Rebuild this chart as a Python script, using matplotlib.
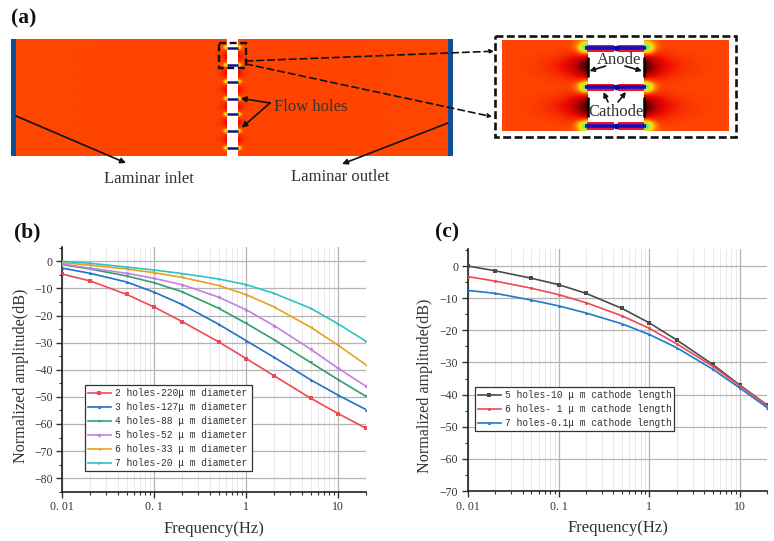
"""Flow-hole schematic (a) and normalized amplitude vs frequency sweeps (b, c)."""
import numpy as np
import matplotlib
matplotlib.use("Agg")
import matplotlib.pyplot as plt
from matplotlib.colors import LinearSegmentedColormap
from matplotlib.patches import Rectangle
from matplotlib.ticker import FixedLocator, FixedFormatter, MultipleLocator, NullFormatter

plt.rcParams.update({
    "font.family": "Liberation Serif", "font.size": 10,
    "axes.spines.top": False, "axes.spines.right": False,
    "axes.axisbelow": True,
})

W, H = 774, 541
FREQ = [0.01, 0.02, 0.05, 0.1, 0.2, 0.5, 1, 2, 5, 10, 20]

B_LABELS = ["2 holes-220μ m diameter", "3 holes-127μ m diameter", "4 holes-88 μ m diameter",
            "5 holes-52 μ m diameter", "6 holes-33 μ m diameter", "7 holes-20 μ m diameter"]
B_COLORS = ["#f04850", "#1f70c8", "#2f9e70", "#c480e0", "#e8a020", "#2cc4c0"]
B_MARKERS = ["s", "^", "v", "D", "<", ">"]
B_2 = [-4.7, -7.2, -12.2, -16.9, -22.2, -29.7, -35.9, -42.2, -50.5, -56.2, -61.6]
B_3 = [-2.5, -4.4, -7.6, -11.4, -15.9, -23.2, -29.3, -35.4, -43.7, -49.4, -54.7]
B_4 = [-1.2, -2.8, -5.4, -7.9, -11.2, -17.3, -22.9, -28.9, -37.3, -43.7, -49.8]
B_5 = [-1.0, -2.5, -4.4, -6.3, -8.6, -13.2, -17.9, -23.7, -32.4, -39.5, -46.1]
B_6 = [-0.5, -1.4, -2.8, -4.2, -5.9, -8.9, -12.3, -16.8, -24.3, -31.0, -38.2]
B_7 = [0.0, -0.7, -2.1, -3.2, -4.5, -6.5, -8.6, -11.8, -17.3, -23.1, -29.5]

C_LABELS = ["5 holes-10 μ m cathode length", "6 holes- 1 μ m cathode length",
            "7 holes-0.1μ m cathode length"]
C_COLORS = ["#4a4a4a", "#f04850", "#1f78d0"]
C_MARKERS = ["s", "o", "^"]
C_5 = [0.0, -1.5, -3.8, -5.8, -8.5, -13.2, -17.7, -23.0, -30.6, -37.1, -43.3]
C_6 = [-3.3, -4.7, -6.9, -8.9, -11.4, -15.5, -19.4, -24.2, -31.2, -37.3, -43.5]
C_7 = [-7.6, -8.5, -10.6, -12.4, -14.6, -18.0, -21.3, -25.4, -32.1, -38.0, -44.1]

# schematic positions, in picture pixels
MAIN_ELECTRODES = [47.7, 65, 81.7, 98.7, 114.3, 131, 148]
INSET_ELECTRODES = [48.3, 87.3, 126]
INSET_CATHODES = [(56.7, 76.7), (96.7, 116.7)]

HEAT = LinearSegmentedColormap.from_list("heat", [
    (0.0, "#150000"), (0.22, "#a00000"), (0.38, "#ee0a00"), (0.5, "#ff4500"),
    (0.68, "#ffd800"), (0.8, "#b8f040"), (0.9, "#20e0c0"), (1.0, "#1060f0")])


def field(x0, x1, y0, y1, edge, hot, cold, r_hot, amp_hot, r_cold, w_cold, amp_cold):
    xs = np.linspace(x0, x1, int((x1 - x0) * 2))
    ys = np.linspace(y0, y1, int((y1 - y0) * 3))
    X, Y = np.meshgrid(xs, ys)
    Z = np.full(X.shape, 0.5)
    for yh in hot:
        Z += amp_hot * np.exp(-((X - edge) ** 2 / (1.5 * r_hot) ** 2 + (Y - yh) ** 2 / r_hot ** 2))
    for yc in cold:
        Z -= amp_cold * np.exp(-np.abs(X - edge) / r_cold - (Y - yc) ** 2 / w_cold ** 2)
    return np.clip(Z, 0, 1)


fig = plt.figure(figsize=(W / 100, H / 100), dpi=100)

# panel (a), drawn in picture pixels
ax0 = fig.add_axes([0, 0, 1, 1])
ax0.set_xlim(0, W)
ax0.set_ylim(H, 0)
ax0.axis("off")

main_mid = [(a + b) / 2 for a, b in zip(MAIN_ELECTRODES[:-1], MAIN_ELECTRODES[1:])]
for x0, x1, edge in [(16, 227, 227), (238, 448, 238)]:
    Z = field(x0, x1, 39.5, 156, edge, MAIN_ELECTRODES, main_mid, 1.9, 0.32, 4.2, 4.6, 0.14)
    ax0.imshow(Z, cmap=HEAT, vmin=0, vmax=1, extent=(x0, x1, 156, 39.5), aspect="auto", zorder=1)
for x in (11, 448):
    ax0.add_patch(Rectangle((x, 39), 5, 117, fc="#0f4f98", ec="none", zorder=2))
for y in MAIN_ELECTRODES:
    ax0.plot([227, 238], [y, y], color="#10108c", lw=1.8, solid_capstyle="butt", zorder=3)
ax0.add_patch(Rectangle((218.5, 43), 27, 25, fc="none", ec="#111111", lw=1.7, ls=(0, (3, 1.5)), zorder=4))

# inset
inset_mid = [(a + b) / 2 for a, b in INSET_CATHODES]
for x0, x1, edge in [(502, 587.5, 587.5), (644, 729, 644)]:
    Z = field(x0, x1, 40.7, 131, edge, INSET_ELECTRODES, inset_mid, 6.5, 0.44, 17, 12, 0.48)
    ax0.imshow(Z, cmap=HEAT, vmin=0, vmax=1, extent=(x0, x1, 131, 40.7), aspect="auto", zorder=1)
for y in INSET_ELECTRODES:
    for xa, xb in [(587, 613.5), (617.5, 644)]:
        ax0.add_patch(Rectangle((xa, y - 3.8), xb - xa, 7.6, fc="#f01030", ec="none", zorder=3))
    ax0.plot([585, 646], [y, y], color="#1010c0", lw=2.6, solid_capstyle="butt", zorder=4)
    ax0.plot([615.5], [y], "o", color="#0808a0", ms=3, zorder=4)
for ya, yb in INSET_CATHODES:
    for x in (587.7, 644):
        ax0.plot([x, x], [ya, yb], color="black", lw=1.8, solid_capstyle="butt", zorder=5)
ax0.add_patch(Rectangle((495.3, 36), 240.4, 100.7, fc="none", ec="#111111", lw=1.9,
                        ls=(0, (3, 1.3)), zorder=4))


def arrow(p0, p1, lw=1.2, ls="-", scale=8):
    ax0.annotate("", xy=p1, xytext=p0, zorder=6,
                 arrowprops=dict(arrowstyle="-|>", color="#111111", lw=lw, ls=ls,
                                 mutation_scale=scale, shrinkA=0, shrinkB=0))


arrow((16, 116), (126, 163))
arrow((448, 123), (342, 164))
arrow((270, 103), (240.7, 98.3))
arrow((270, 103), (241.7, 127.7))
arrow((246, 61), (494, 51.2), lw=1.2, ls=(0, (4, 2.5)), scale=6)
arrow((246, 64), (492, 116.7), lw=1.2, ls=(0, (4, 2.5)), scale=6)
arrow((605.5, 66), (589.5, 71), scale=7)
arrow((625, 66), (642, 71), scale=7)
arrow((608, 102), (603.5, 92), scale=7)
arrow((618, 102), (626, 92), scale=7)

TXT = "#333333"
ax0.text(311, 107, "Flow holes", ha="center", va="center", fontsize=12, color=TXT, zorder=7)
ax0.text(148.5, 179, "Laminar inlet", ha="center", va="center", fontsize=12, color=TXT, zorder=7)
ax0.text(340, 177, "Laminar outlet", ha="center", va="center", fontsize=12, color=TXT, zorder=7)
ax0.text(619, 60, "Anode", ha="center", va="center", fontsize=12, color=TXT, zorder=7)
ax0.text(616.5, 112.5, "Cathode", ha="center", va="center", fontsize=12, color=TXT, zorder=7)
for x, y, s in [(11, 18, "(a)"), (14, 232, "(b)"), (435, 232, "(c)")]:
    ax0.text(x, y, s, ha="left", va="center", fontsize=15.5, fontweight="bold", color="#111111", zorder=7)


def panel(box, ylim, ymajor, series, labels, colors, markers, legend_box, label_y, label_pad):
    l, t, r, b = box
    ax = fig.add_axes([l / W, 1 - b / H, (r - l) / W, (b - t) / H])
    ax.set_xscale("log")
    ax.set_xlim(0.01, 20)
    ax.set_ylim(*ylim)
    for vals, lab, col, mk in zip(series, labels, colors, markers):
        ax.plot(FREQ, vals, color=col, lw=1.2, marker=mk, ms=2.2, mew=0, label=lab, zorder=3)
    ax.xaxis.set_major_locator(FixedLocator([0.01, 0.1, 1, 10]))
    ax.xaxis.set_major_formatter(FixedFormatter(["0. 01", "0. 1", "1", "10"]))
    ax.xaxis.set_minor_formatter(NullFormatter())
    ax.yaxis.set_major_locator(FixedLocator(ymajor))
    ax.yaxis.set_minor_locator(MultipleLocator(5))
    ax.grid(which="major", color="#b4b4b4", lw=0.9)
    ax.grid(which="minor", axis="x", color="#e4e4e4", lw=0.6)
    ax.grid(which="minor", axis="y", visible=False)
    for side in ("left", "bottom"):
        ax.spines[side].set_linewidth(1.2)
        ax.spines[side].set_color("#222222")
    ax.tick_params(which="major", length=4, width=1, labelsize=8.5, colors="#333333", pad=3)
    ax.tick_params(which="minor", length=2.2, width=0.8, colors="#333333")
    ax.set_xlabel("Frequency(Hz)", fontsize=12, color=TXT, labelpad=5.5)
    ax.set_ylabel("Normalized amplitude(dB)", fontsize=11.6, color=TXT, labelpad=label_pad, y=label_y)
    lx, ly, lw_, lh = legend_box
    leg = ax.legend(loc="lower left", bbox_to_anchor=(lx / W, 1 - (ly + lh) / H, lw_ / W, lh / H),
                    bbox_transform=fig.transFigure, mode="expand", borderaxespad=0,
                    prop={"family": "Liberation Mono", "size": 6.9}, fancybox=False, framealpha=1,
                    edgecolor="#333333", handlelength=2.4, handletextpad=0.45, labelspacing=0.42,
                    borderpad=0.3)
    leg.get_frame().set_linewidth(0.9)
    for t_ in leg.get_texts():
        t_.set_color("#333333")
    return ax


panel((62.3, 247, 366, 491.7), (-85, 5.3), list(range(-80, 1, 10)),
      [B_2, B_3, B_4, B_5, B_6, B_7], B_LABELS, B_COLORS, B_MARKERS, (85, 389, 167, 82), 0.473, 3.5)
panel((468, 249.3, 767.3, 491), (-70, 5.2), list(range(-70, 1, 10)),
      [C_5, C_6, C_7], C_LABELS, C_COLORS, C_MARKERS, (475, 389, 199, 42), 0.434, 5)

fig.savefig("out.png", dpi=100)
